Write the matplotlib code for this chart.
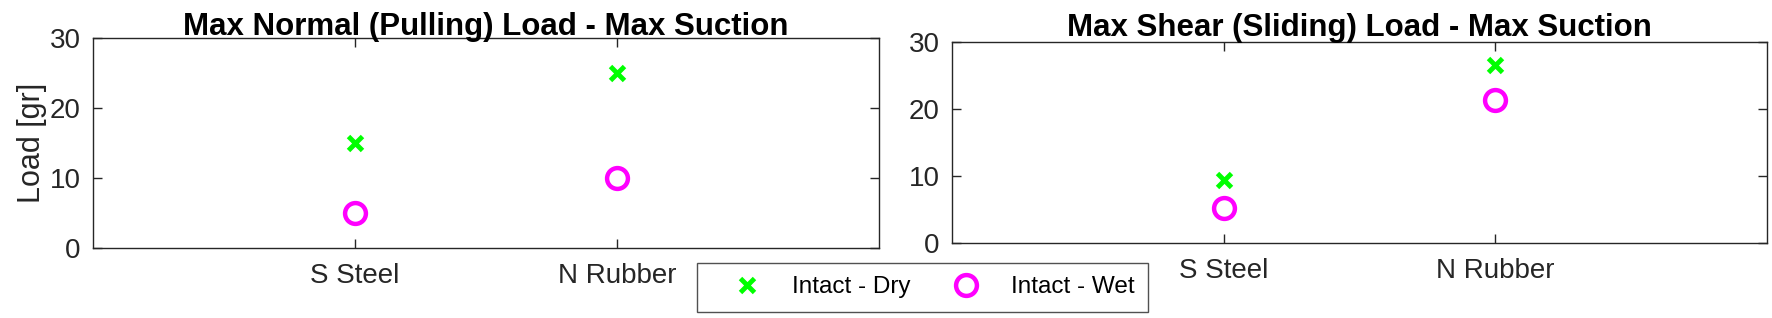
import matplotlib.pyplot as plt
import numpy as np

plt.rcParams['font.family'] = ['Liberation Sans', 'DejaVu Sans']

# data
materials = ['S Steel', 'N Rubber']
normal_dry = [15, 25]
normal_wet = [5, 10]
shear_dry = [9.4, 26.5]
shear_wet = [5.2, 21.4]
titles = ['Max Normal (Pulling) Load - Max Suction',
          'Max Shear (Sliding) Load - Max Suction']
labels = ['Intact - Dry', 'Intact - Wet']

dry_color = '#00ff00'
wet_color = '#ff00ff'
axis_color = '#262626'

fig = plt.figure(figsize=(17.72, 3.18), dpi=100)
ax1 = fig.add_axes([93/1772, 1-248/318, (879-93)/1772, (248-38)/318])
ax2 = fig.add_axes([952/1772, 1-243/318, (1767-952)/1772, (243-42)/318])

x = np.arange(1, len(materials) + 1)

for ax, dry, wet, title, tpad in [(ax1, normal_dry, normal_wet, titles[0], 2),
                                  (ax2, shear_dry, shear_wet, titles[1], 4)]:
    h1, = ax.plot(x, dry, linestyle='none', marker='x', color=dry_color,
                  markersize=10.5, markeredgewidth=3.5, label=labels[0])
    h2, = ax.plot(x, wet, linestyle='none', marker='o', markerfacecolor='none',
                  markeredgecolor=wet_color, markersize=15, markeredgewidth=3.2,
                  label=labels[1])
    ax.set_xlim(0, 3)
    ax.set_ylim(0, 30)
    ax.set_xticks(x)
    ax.set_xticklabels(materials)
    ax.set_yticks([0, 10, 20, 30])
    ax.tick_params(direction='in', length=6.5, width=1, colors=axis_color,
                   labelsize=20, top=True, right=True)
    ax.tick_params(axis='x', pad=11)
    ax.tick_params(axis='y', pad=9)
    for s in ax.spines.values():
        s.set_color(axis_color)
        s.set_linewidth(1)
    ax.set_title(title, fontsize=22.5, fontweight='bold', pad=tpad)

ax1.set_ylabel('Load [gr]', fontsize=22, color=axis_color, labelpad=2)

# legend below, spanning the gap between the two plots
leg = fig.legend([h1, h2], labels, ncol=2, loc='upper left',
                 bbox_to_anchor=(697/1772, 1-263/318), fontsize=17.5,
                 frameon=True, fancybox=False, edgecolor=axis_color,
                 borderpad=0.55, handlelength=3.0, handletextpad=0.35,
                 columnspacing=0.8, borderaxespad=0)
leg.get_frame().set_linewidth(1)

fig.savefig('out.png', dpi=100)
